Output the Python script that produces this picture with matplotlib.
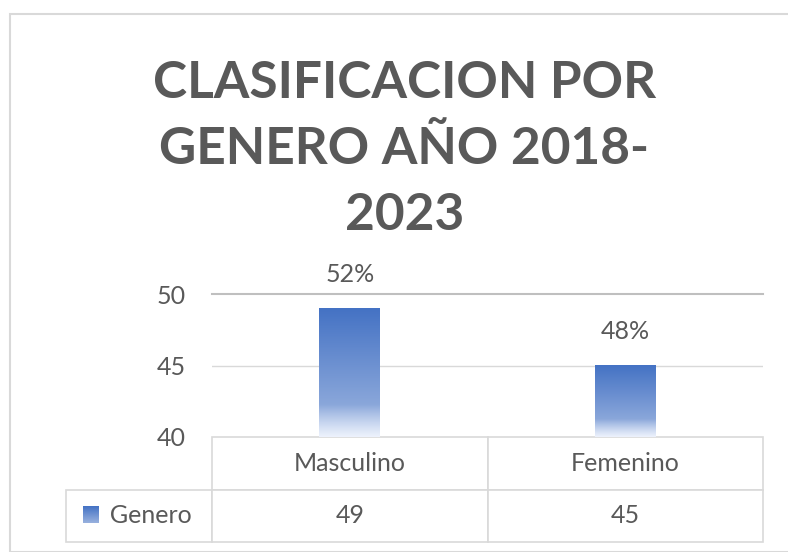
import matplotlib.pyplot as plt
import numpy as np
from matplotlib.patches import Rectangle

categories = ["Masculino", "Femenino"]
values = [49, 45]
pct_labels = ["52%", "48%"]
series_name = "Genero"
title = "CLASIFICACION POR\nGENERO AÑO 2018-\n2023"

txt = "#595959"
bar_blue = "#4472C4"
grid_c = "#D9D9D9"

plt.rcParams['font.family'] = ['Lato', 'DejaVu Sans']

fig = plt.figure(figsize=(7.88, 5.52), dpi=100)
W, H = 788, 552

# outer chart border
fig.patches.append(Rectangle((10 / W, 0), 1, 1 - 14 / H, transform=fig.transFigure,
                             fill=False, edgecolor="#D9D9D9", linewidth=1.5))

fig.text(0.513, 1 - 150 / H, title, ha="center", va="center", fontsize=37,
         fontweight="bold", color=txt, linespacing=1.5)

ax = fig.add_axes([212 / W, 1 - 437 / H, 551 / W, 143 / H])
x = np.arange(len(categories))
ax.set_xlim(-0.5, len(categories) - 0.5)
ax.set_ylim(40, 50)
ax.set_yticks([40, 45, 50])
ax.tick_params(axis="y", length=0, labelsize=18, labelcolor=txt, pad=19)
ax.set_xticks([])
for s in ax.spines.values():
    s.set_visible(False)
ax.axhline(45, color=grid_c, lw=1, zorder=0)
ax.axhline(50, color="#BFBFBF", lw=1.5, zorder=0, clip_on=False)

bars = ax.bar(x, values, width=0.22, color="none", edgecolor="none")
# vertical gradient: solid blue at top, fading to near white at the base
rgb = np.array(plt.matplotlib.colors.to_rgb(bar_blue))
for b in bars:
    x0, w = b.get_x(), b.get_width()
    top = b.get_y() + b.get_height()
    g = np.linspace(0, 1, 256)
    a = np.clip(g / 0.25, 0, 1)
    mix = 0.5 + 0.5 * g
    col = rgb * mix[:, None] + (1 - mix[:, None])
    col = col * a[:, None] + (1 - a[:, None]) * np.array([0.93, 0.95, 0.99])
    im = np.ones((256, 1, 4))
    im[:, 0, :3] = col
    ax.imshow(im, extent=(x0, x0 + w, 40, top), origin="lower", aspect="auto", zorder=2)

for xi, v, lab in zip(x, values, pct_labels):
    ax.annotate(lab, (xi, v), xytext=(0, 16), textcoords="offset points",
                ha="center", va="bottom", fontsize=18, color=txt)

cell_text = [["", categories[0], categories[1]],
             ["     " + series_name, str(values[0]), str(values[1])]]
tbl = ax.table(cellText=cell_text, cellLoc="center",
               bbox=[-146 / 551, -105 / 143, 697 / 551, 105 / 143],
               colWidths=[146, 276, 275])
tbl.auto_set_font_size(False)
for (r, c), cell in tbl.get_celld().items():
    cell.set_edgecolor(grid_c)
    cell.set_linewidth(1.2)
    cell.get_text().set_fontsize(18)
    cell.get_text().set_color(txt)
    if r == 0 and c == 0:
        cell.visible_edges = ""
    if r == 1 and c == 0:
        cell.get_text().set_ha("left")
        cell.PAD = 0.08

# legend key in row label cell
key = np.ones((64, 1, 4))
kg = np.linspace(0, 1, 64)
kmix = 0.55 + 0.45 * kg
key[:, 0, :3] = rgb * kmix[:, None] + (1 - kmix[:, None])
kax = fig.add_axes([83 / W, 1 - 523 / H, 16 / W, 17 / H])
kax.imshow(key, origin="lower", aspect="auto")
kax.axis("off")

fig.savefig("out.png", dpi=100)
